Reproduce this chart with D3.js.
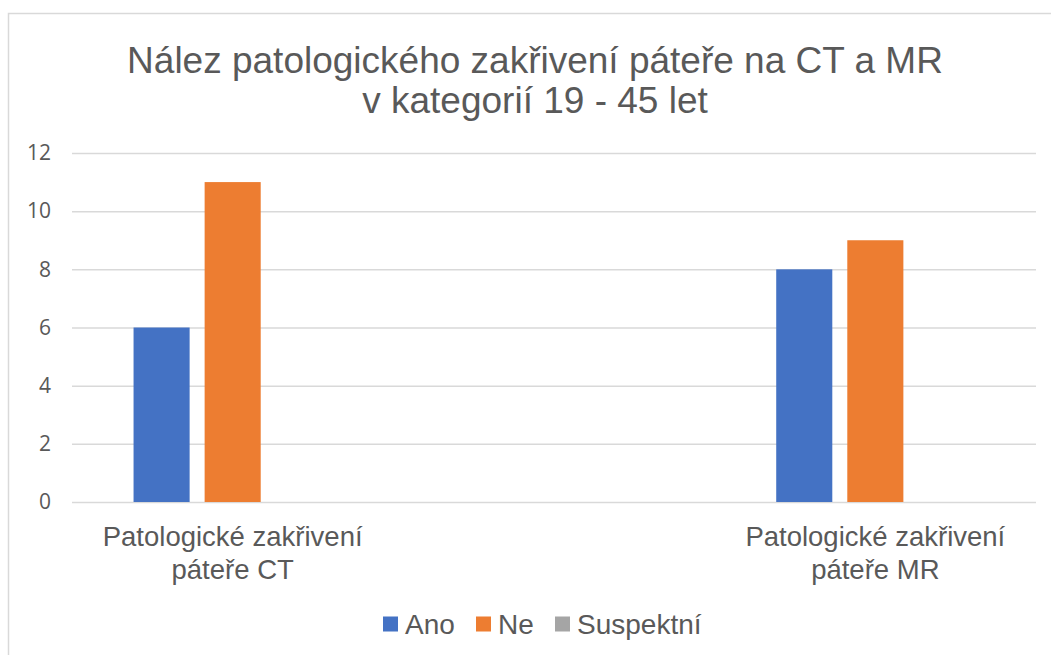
<!DOCTYPE html>
<html>
<head>
<meta charset="utf-8">
<script src="https://cdn.jsdelivr.net/npm/d3@7"></script>
<style>
  body { margin: 0; background: #fff; }
  svg { display: block; }
</style>
</head>
<body>
<div id="chart"></div>
<script>
// data
const categories = [["Patologické zakřivení", "páteře CT"], ["", ""], ["Patologické zakřivení", "páteře MR"]];
const seriesNames = ["Ano", "Ne", "Suspektní"];
const ano = [6, null, 8];
const ne = [11, null, 9];
const suspektni = [0, null, 0];
const yTicks = [0, 2, 4, 6, 8, 10, 12];
const titleLines = ["Nález patologického zakřivení páteře na CT a MR", "v kategorií 19 - 45 let"];

const colors = ["#4472C4", "#ED7D31", "#A5A5A5"];
const W = 1051, H = 655;
const plot = { left: 72, right: 1036, top: 153, bottom: 502 };

const svg = d3.select("#chart").append("svg")
    .attr("width", W)
    .attr("height", H);

// chart border
svg.append("rect")
    .attr("x", 8.5).attr("y", 13.5)
    .attr("width", W + 10).attr("height", H + 10)
    .attr("fill", "none")
    .attr("stroke", "#D9D9D9")
    .attr("stroke-width", 1.5);

const x0 = d3.scaleBand()
    .domain(d3.range(categories.length))
    .range([plot.left, plot.right]);

const x1 = d3.scaleBand()
    .domain(seriesNames)
    .range([0, x0.bandwidth()])
    .paddingInner(0.211)
    .paddingOuter(0.866);

const y = d3.scaleLinear()
    .domain([0, 12])
    .range([plot.bottom, plot.top]);

// gridlines + tick labels
const yAxis = svg.append("g")
    .attr("transform", `translate(${plot.left},0)`)
    .call(d3.axisLeft(y).tickValues(yTicks).tickSize(-(plot.right - plot.left)).tickPadding(21));
yAxis.select(".domain").remove();
yAxis.selectAll(".tick line").attr("stroke", "#D9D9D9").attr("stroke-width", 1.5);
yAxis.selectAll(".tick text")
    .attr("fill", "#595959")
    .style("font-family", "'Open Sans', 'Noto Sans', sans-serif")
    .style("font-size", "21px");

// bars
const values = [ano, ne, suspektni];
const rows = [];
values.forEach((vals, s) => {
    vals.forEach((v, c) => {
        if (v !== null) rows.push({ c, s, v });
    });
});

svg.append("g").selectAll("rect")
    .data(rows)
    .enter()
    .append("rect")
    .attr("x", d => x0(d.c) + x1(seriesNames[d.s]))
    .attr("y", d => y(d.v))
    .attr("width", x1.bandwidth())
    .attr("height", d => y(0) - y(d.v))
    .attr("fill", d => colors[d.s]);

// category labels
const catG = svg.append("g");
categories.forEach((lines, i) => {
    const t = catG.append("text")
        .attr("x", x0(i) + x0.bandwidth() / 2)
        .attr("y", 546)
        .attr("text-anchor", "middle")
        .attr("fill", "#595959")
        .style("font-family", "'Liberation Sans', Arial, sans-serif")
        .style("font-size", "27.5px");
    lines.forEach((l, j) => {
        t.append("tspan")
            .attr("x", x0(i) + x0.bandwidth() / 2)
            .attr("dy", j === 0 ? 0 : 33)
            .text(l);
    });
});

// title
const title = svg.append("text")
    .attr("text-anchor", "middle")
    .attr("fill", "#595959")
    .style("font-family", "'Liberation Sans', Arial, sans-serif")
    .style("font-size", "37px");
titleLines.forEach((l, j) => {
    title.append("tspan")
        .attr("x", 535)
        .attr("y", 73 + j * 40)
        .text(l);
});

// legend
const legendX = [383, 476, 555];
const legend = svg.selectAll(".legend")
    .data(seriesNames)
    .enter()
    .append("g")
    .attr("class", "legend")
    .attr("transform", (d, i) => `translate(${legendX[i]}, 624)`);

legend.append("rect")
    .attr("x", 0)
    .attr("y", -7.5)
    .attr("width", 15)
    .attr("height", 15)
    .attr("fill", (d, i) => colors[i]);

legend.append("text")
    .attr("x", 22)
    .attr("y", 10)
    .attr("fill", "#595959")
    .style("font-family", "'Liberation Sans', Arial, sans-serif")
    .style("font-size", "28px")
    .text(d => d);
</script>
</body>
</html>
